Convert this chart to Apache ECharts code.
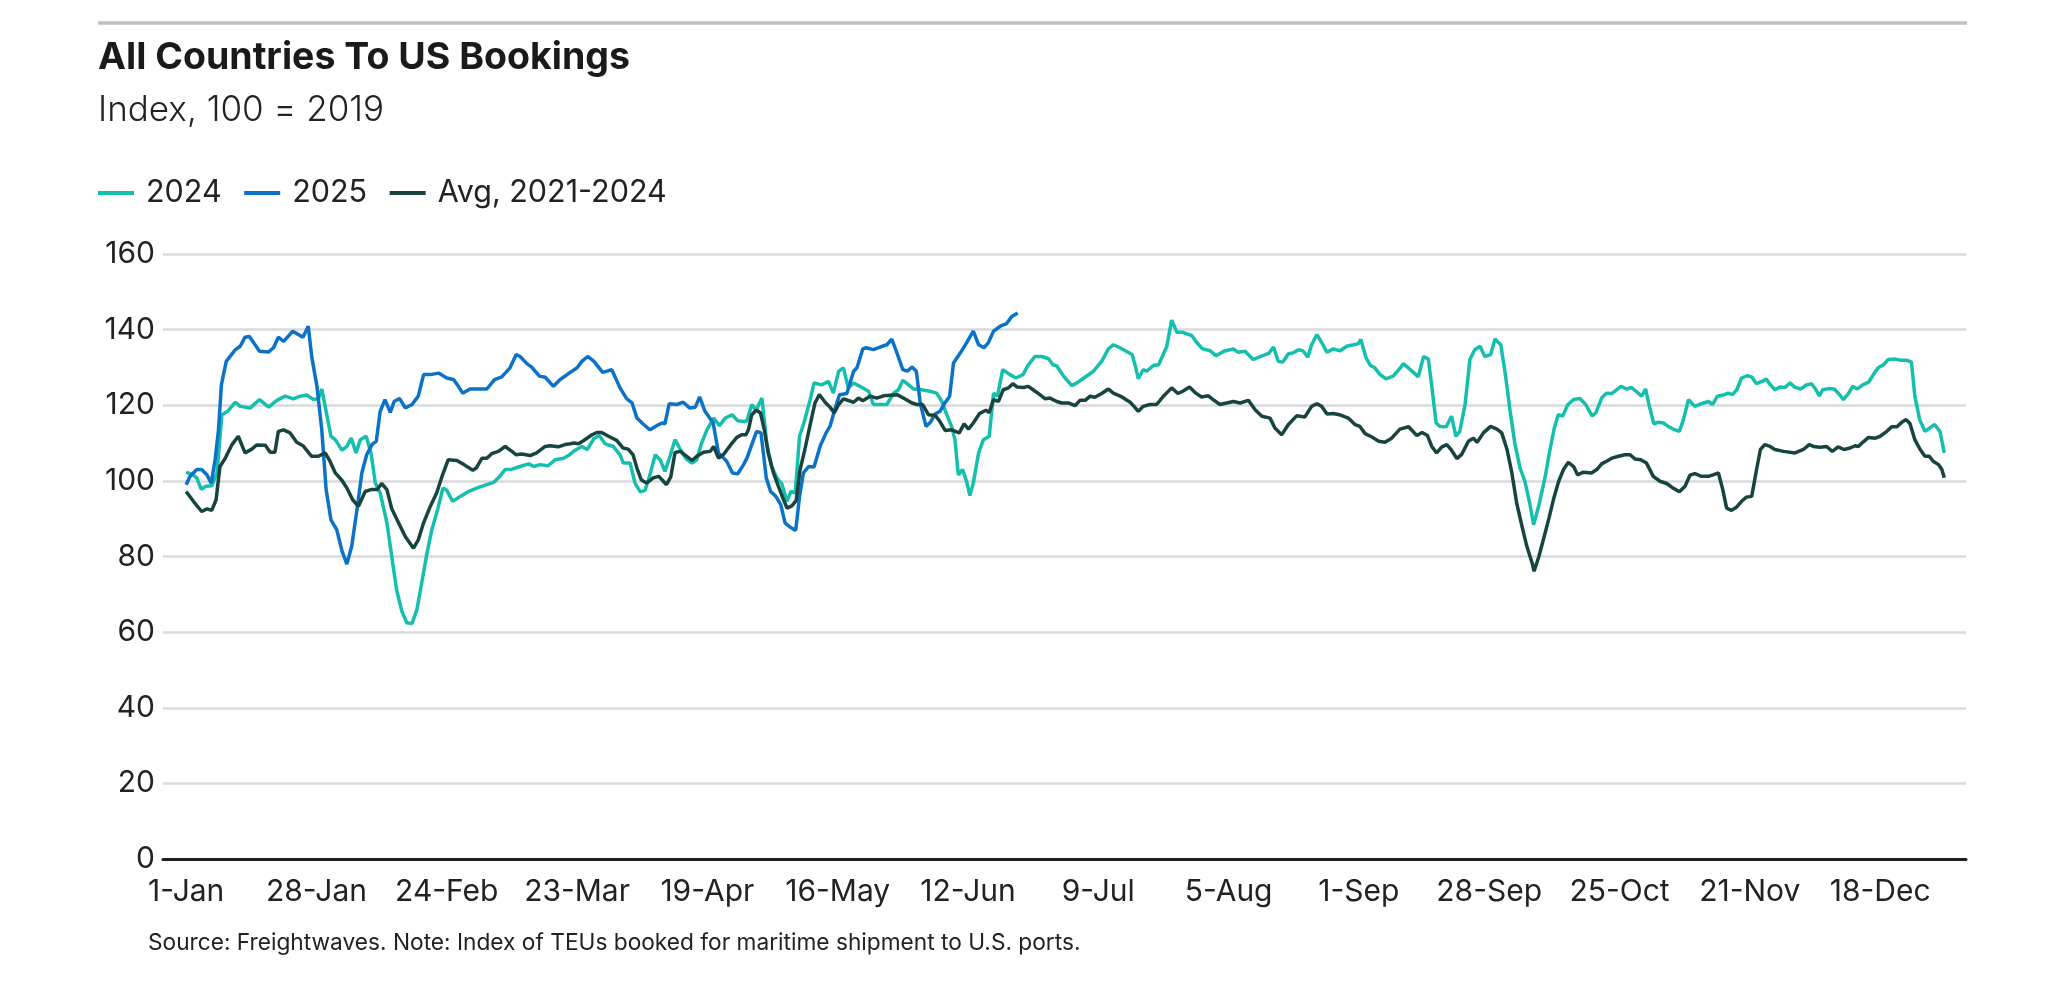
<!DOCTYPE html>
<html>
<head>
<meta charset="utf-8">
<title>All Countries To US Bookings</title>
<script src="https://cdn.jsdelivr.net/npm/echarts@6.0.0/dist/echarts.min.js"></script>
<style>
  html, body { margin: 0; padding: 0; background: #fff; }
  #chart { width: 2060px; height: 993px; }
</style>
</head>
<body>
<div id="chart"></div>
<script>
// day of year (0 = 1-Jan) and tick labels, one every 27 days
var tickDays = [0, 27, 54, 81, 108, 135, 162, 189, 216, 243, 270, 297, 324, 351];
var tickLabels = ['1-Jan', '28-Jan', '24-Feb', '23-Mar', '19-Apr', '16-May', '12-Jun',
  '9-Jul', '5-Aug', '1-Sep', '28-Sep', '25-Oct', '21-Nov', '18-Dec'];
var yTicks = [0, 20, 40, 60, 80, 100, 120, 140, 160];
var seriesNames = ['2024', '2025', 'Avg, 2021-2024'];

// [day, index] readings
var bookings2024 = [[0,102.3],[1.4,101.6],[2.2,100.8],[3.1,97.8],[4.1,98.6],[5.3,98.7],[6.4,102.1],[7.4,117.5],[8.6,118.4],[10.2,120.8],[11.2,119.7],[13.3,119.3],[15.2,121.5],[17.1,119.5],[18.8,121.3],[20.5,122.4],[22.2,121.7],[23.6,122.4],[25,122.7],[26.4,121.5],[27.4,121.7],[28.1,124.3],[28.8,119.7],[30,111.8],[30.9,110.9],[32.3,108.1],[33.3,109.1],[34.2,111.3],[35.2,107.4],[36.1,110.9],[37.3,111.8],[38.3,107.4],[39.2,99.4],[40.2,96.8],[41.6,88.9],[42.6,80],[43.6,71.2],[44.7,65.5],[45.7,62.5],[46.8,62.3],[47.8,65.9],[48.8,73],[49.9,80.9],[50.9,87.1],[52.1,92.4],[53.2,98.1],[54,97.5],[55.2,94.6],[56.8,95.9],[58.5,97.2],[60.9,98.4],[63.7,99.6],[64.7,100.8],[66.1,103],[67.5,103.1],[69.2,103.8],[71,104.5],[72,103.8],[73.3,104.3],[75,104],[76.5,105.6],[78.2,106],[79.2,106.7],[80.6,108.1],[82,109.1],[83.1,108.3],[84.5,111.2],[85.6,112],[86.8,109.8],[88.5,109.1],[89.9,106.9],[90.6,104.7],[92,104.7],[93,99.4],[94.1,97.1],[95.1,97.5],[96.1,101.6],[97.2,106.9],[98.2,105.6],[99.2,102.5],[100.3,106.7],[101.3,110.9],[102.4,108.3],[103.6,105.8],[104.8,104.7],[105.8,105.6],[106.8,110],[107.9,113.5],[109.3,116.6],[110.5,114.6],[111.7,116.6],[113.1,117.5],[114.3,115.9],[115.6,115.7],[116.2,115.9],[117.2,120.2],[118.1,118.7],[119.3,121.9],[120.3,110],[121.3,103.8],[122.4,100.8],[123.4,99.3],[124.5,94.6],[125.3,97.2],[126.2,96.8],[127.1,111.8],[128,115.3],[129.3,121.5],[130.1,125.9],[131.7,125.4],[133.1,126.3],[134.1,123.2],[135.2,129],[136.2,129.9],[137.2,124.6],[138.3,125.9],[139.6,125],[141.4,123.7],[142.4,120.2],[145.2,120.2],[146.6,123.2],[147.6,124.1],[148.5,126.6],[149.7,125.4],[150.7,124.3],[152.4,124.1],[154.1,123.7],[155.5,123.2],[156.6,121],[157.6,117.5],[158.6,114.4],[159.3,110.9],[160,101.6],[160.9,103],[161.8,99.4],[162.4,96.1],[163.1,99.4],[164.2,107.4],[165.2,110.9],[166.4,111.8],[167.3,123.2],[168.1,122.4],[169.2,129.4],[170.7,128.1],[171.9,127.2],[173.4,128.1],[174.5,130.7],[175.9,132.9],[177.3,132.9],[178.7,132.3],[179.6,130.7],[180.4,130.4],[181.8,127.7],[183.5,125.2],[184.6,125.9],[186,127.2],[188,129],[189.7,131.6],[191.1,134.9],[192.1,136],[193.5,135.2],[194.6,134.4],[196,133.4],[196.7,130.3],[197.3,127],[198.3,129.4],[199,129],[200.4,130.5],[201.5,130.7],[203.2,135.6],[204.2,142.5],[205.3,139.3],[206.5,139.3],[208.4,138.4],[209.4,136.6],[210.6,134.9],[212.2,134.4],[213.4,133.1],[215,134.3],[217,134.9],[218,134],[219.4,134.3],[221.1,132.1],[222.8,133],[224.3,133.7],[225.3,135.4],[226.3,131.6],[227.2,131.4],[228.4,133.6],[229.3,133.8],[230.5,134.7],[231.5,134.3],[232.4,132.7],[233.2,136],[234.3,138.7],[235.3,136.6],[236.4,134],[237.6,134.9],[239.1,134.4],[240.5,135.6],[241.9,136],[242.9,136.3],[243.4,137.4],[244.5,132.5],[245.4,130.5],[246.3,129.9],[247.4,128.1],[248.6,127],[250.1,127.7],[251.4,129.6],[252.2,131],[253.5,129.6],[254.3,128.7],[255.3,127.5],[256.4,132.9],[257.4,132.2],[258.1,125],[259,115.3],[259.8,114.4],[261.1,114.3],[262.2,117.1],[263.1,111.8],[263.9,113.1],[265,120.2],[266,132.1],[267,134.7],[268.1,135.6],[269.1,132.9],[270.3,133.4],[271.2,137.5],[272.4,136],[273.4,127.7],[274.3,118.8],[275.3,110],[276.4,103.4],[277.4,99.9],[278.4,94.1],[279.2,88.4],[280.4,94.1],[281.6,101.1],[282.6,108.3],[283.5,114],[284.3,117.5],[285.2,117.1],[286.3,120.2],[287.5,121.5],[288.8,121.8],[290,120.2],[291.3,117.2],[292.1,118],[293.3,121.9],[294.3,123.2],[295.4,123.1],[297.3,125],[298.5,124.3],[299.5,124.7],[301.6,122.4],[302.4,124.3],[303.2,119.7],[304.1,115.1],[305,115.5],[306.1,115.3],[307.1,114.4],[308.1,113.7],[309.4,113.1],[310.2,116],[311.3,121.5],[312.6,119.7],[314,120.4],[315.4,121],[316.3,120.2],[317.3,122.4],[318.5,122.7],[319.5,123.2],[320.4,122.8],[321.3,124.1],[322.3,127.2],[323.4,127.8],[324.4,127.5],[325.4,125.7],[326.5,126.3],[327.4,126.9],[328.3,125.4],[329.2,124.1],[330.2,124.8],[331.3,124.7],[332.3,125.9],[333.3,124.8],[334.5,124.3],[335.8,125.4],[336.8,125.7],[337.7,124.1],[338.4,122.5],[339.1,124.1],[340.3,124.4],[341.5,124.3],[342.6,122.8],[343.4,121.5],[344.5,123.2],[345.3,125],[346.3,124.3],[347.4,125.4],[348.6,126.1],[349.6,128.1],[350.6,129.9],[351.7,130.7],[352.7,132.1],[354.1,132.2],[355.3,131.9],[356.5,131.9],[357.5,131.4],[358.2,122.4],[359.2,116.2],[360.3,113.1],[361.3,114],[362.3,114.9],[363.4,113.1],[364.3,107.4]];

var bookings2025 = [[0,99],[0.8,101.2],[2.2,103],[3.2,103],[4.3,101.6],[5.2,99.4],[6,105.6],[6.7,113.5],[7.3,125.4],[8.3,131.6],[10.2,134.7],[11.2,135.6],[12.2,138],[13.1,138.2],[15.2,134.3],[17.1,134.1],[18.1,135.2],[19.1,138],[20.2,136.9],[22.1,139.6],[24.2,138],[25.3,140.9],[26,133],[27.1,125],[28.1,113.5],[29,97.7],[30,89.7],[31.2,87.1],[32.3,81.4],[33.3,78],[34.3,82.7],[35.4,92.4],[36.4,102.1],[37.4,106.9],[38.5,109.6],[39.4,110.5],[40.2,118.4],[41.2,121.5],[42.3,118.1],[43.1,121],[44.2,121.8],[45.4,119.3],[46.8,120.2],[48.1,122.4],[49.2,128.1],[50.6,128.1],[52.3,128.5],[54,127.2],[55.4,126.8],[56.4,125],[57.3,123.2],[58.8,124.3],[62.3,124.3],[63.9,126.8],[65.4,127.5],[67.1,129.9],[68.4,133.4],[69.2,132.9],[70.6,131],[71.6,130.1],[73.2,127.7],[74.4,127.4],[76.1,125],[77.5,126.8],[79.6,128.7],[81,129.9],[82,131.6],[83.2,132.9],[84.5,131.6],[86.3,128.7],[88.2,129.4],[89.9,124.6],[91.3,121.7],[92.4,120.6],[93.4,116.6],[94.8,114.9],[96.1,113.5],[97.5,114.6],[98.6,115.3],[99.2,115.1],[100.1,120.4],[101.7,120.2],[103,120.8],[104.3,119.3],[105.5,119.5],[106.4,122.2],[107.5,118.4],[109.2,115.3],[110.3,107.4],[112,105.2],[113.2,102.1],[114.3,101.9],[115.5,104.3],[116.2,106],[117.2,109.6],[118.2,113.1],[119.1,112.7],[119.6,107.4],[120.2,100.8],[121.1,97.2],[122.2,95.9],[123.2,93.7],[124.1,88.9],[125.1,87.8],[126.3,86.9],[127.1,95.9],[127.9,102.1],[129,103.8],[130.1,103.7],[131.4,109.3],[132.6,112.7],[133.4,114.4],[134.5,119.3],[135.4,122.8],[136.9,123.1],[138.3,129],[139,129.9],[140.2,134.9],[140.9,135.2],[142.4,134.7],[143.8,135.4],[145.2,136],[146.2,137.5],[147.3,133.8],[148.5,129.4],[149.4,129],[150.4,130.1],[151.3,129],[152.1,120.6],[153.3,114.4],[154.2,115.5],[155.2,117.7],[156.2,118.4],[157,120.2],[158.2,122.4],[159,131.2],[160.4,133.8],[161.7,136.5],[163.1,139.6],[164.2,136],[165.3,135.2],[166.2,136.5],[167.3,139.6],[168.7,140.9],[170,141.6],[171.1,143.5],[172.3,144.4]];

var avg2021to2024 = [[0,97.2],[1.5,94.6],[3.2,91.9],[4.3,92.6],[5.3,92.2],[6.2,95],[7,103.8],[8.1,106],[9.5,109.6],[10.8,111.8],[11.2,112],[12.2,107.4],[13.6,108.4],[14.6,109.5],[16.4,109.4],[17.4,107.6],[18.4,107.6],[19.1,113.1],[20.2,113.5],[21.5,112.7],[22.9,110.2],[24.2,109.3],[26,106.5],[27.4,106.5],[28.8,107.4],[29.8,105.2],[30.9,102.1],[32.3,100.1],[33.3,98.1],[34.5,95],[35.7,93.3],[37.1,97.2],[38.3,97.7],[39.6,97.7],[40.5,99.3],[41.6,97.7],[42.6,92.6],[44,88.9],[45.4,85.3],[47.1,82.2],[48.1,84.4],[49.2,88.9],[50.6,93.3],[51.9,96.8],[53,101.1],[54.3,105.6],[56.1,105.4],[57.8,104.1],[59.4,102.8],[60.1,103.4],[61.3,106],[62.3,106],[63.3,107.2],[64.7,107.8],[66.1,109.1],[67.5,107.8],[68.4,106.9],[69.5,107.1],[71.3,106.7],[72.6,107.4],[74.4,109.1],[75.4,109.3],[77.1,109],[78.5,109.6],[79.6,109.8],[80.3,110],[81.3,109.8],[82.3,110.6],[84.1,112.2],[85.1,112.8],[86.1,112.8],[87.5,111.8],[89.2,110.7],[90.5,108.7],[91.6,108.4],[92.6,106.9],[93.4,103.4],[94.3,100.3],[95.4,99.4],[96.8,100.8],[97.9,101.2],[98.6,100.3],[99.5,99],[100.4,101],[101.3,107.5],[102.4,107.8],[103.7,106.5],[104.8,105.4],[105.8,106.5],[107.2,107.6],[108.6,107.8],[109.3,109.1],[110.3,106],[111.3,106.9],[112.7,109.3],[114.1,111.5],[115.1,112.2],[116,112.2],[116.5,113.5],[117.2,117.5],[118.1,118.7],[119,118],[119.8,113.5],[120.6,107.4],[121.7,102.1],[122.7,98.6],[123.8,95],[124.5,92.8],[125.5,93.4],[126.4,94.8],[127.2,102.9],[128.2,108.3],[129.3,114.9],[130.3,120.6],[131.2,122.8],[132.4,120.8],[133.4,119.5],[134.3,118],[135.2,120.2],[136.2,121.7],[138.3,120.8],[139.3,121.9],[140.2,121.2],[141.7,122.4],[143.1,121.9],[144.5,122.5],[147.3,122.8],[148.6,121.9],[150.4,120.6],[151.4,120.2],[152.6,120.2],[153.8,117.5],[155.2,117.3],[156.2,115.7],[157.3,113.3],[158.6,113.5],[160.2,112.7],[161.2,115.1],[162.1,113.7],[163.1,115.3],[164.4,117.8],[165.7,118.7],[166.4,118.1],[167.3,121.5],[168.3,121],[169.3,124.1],[170.4,124.6],[171.3,125.7],[172.2,124.8],[173.5,124.7],[174.5,125],[175.5,124.1],[176.9,122.8],[178,121.7],[179,121.9],[180.4,121],[181.4,120.6],[182.8,120.6],[184.2,119.9],[185.2,121.3],[186.3,121.3],[187.3,122.4],[188.3,122.1],[189.7,123.1],[191.1,124.3],[192.1,123.2],[193.9,122.2],[195.6,120.8],[196.4,119.7],[197.3,118.4],[198.3,119.7],[199.7,120.2],[201.1,120.2],[202.5,122.4],[204.2,124.6],[205.5,123.1],[206.5,123.7],[207.9,124.8],[209.2,123.2],[210.4,122.2],[211.8,122.5],[212.8,121.5],[214.2,120.2],[215.6,120.6],[217,121],[218.4,120.6],[220.1,121.3],[221.5,118.8],[222.9,117.1],[224.6,116.6],[225.6,114],[227,112.2],[228.4,114.9],[230.1,117.2],[231.8,116.9],[233.2,119.7],[234.3,120.4],[235.3,119.7],[236.4,117.7],[237.7,117.8],[239.2,117.4],[240.8,116.6],[242.2,114.9],[243.2,114.4],[244.3,112.5],[245.7,111.6],[247.1,110.5],[248.4,110.2],[249.8,111.3],[251.5,113.7],[253.3,114.3],[255,112],[256.1,112.8],[257.2,112],[258.1,109.1],[259.1,107.4],[260.2,109],[261.2,109.6],[262.1,108.3],[263.3,105.9],[264.3,107],[265.7,110.5],[266.7,111.3],[267.5,110.2],[268.8,112.7],[270.3,114.4],[271.6,113.7],[272.6,112.7],[273.7,108.3],[274.7,102.1],[275.7,94.1],[276.8,88],[277.8,82.7],[278.9,78.3],[279.3,76.1],[280.3,80],[281.4,85.3],[282.4,90.2],[283.4,95.5],[284.4,99.9],[285.4,103],[286.4,104.9],[287.5,103.8],[288.3,101.6],[289.5,102.3],[291.2,102.1],[292.3,103],[293.3,104.5],[294.3,105.2],[295.4,106],[296.8,106.5],[298.1,106.9],[299.2,106.9],[300.2,105.8],[301.4,105.6],[302.6,104.7],[304,101.2],[305.4,99.9],[306.8,99.3],[308.1,98.1],[309.4,97.1],[310.6,98.6],[311.6,101.5],[312.6,101.9],[314,101.2],[315.4,101.2],[316.4,101.6],[317.5,102.1],[318.4,97.7],[319.2,92.8],[320.2,92.2],[321.3,93.1],[322.3,94.6],[323.3,95.7],[324.4,95.9],[325.4,103],[326.2,108.3],[327.1,109.6],[328.2,109.1],[329.2,108.3],[331,107.8],[333.4,107.4],[335.1,108.3],[336.3,109.6],[337.2,109.1],[338.5,108.9],[339.9,109.1],[341.1,107.8],[342.3,109],[343.5,108.3],[344.8,108.7],[345.8,109.3],[346.5,109.1],[347.4,110.2],[348.6,111.5],[350,111.3],[351,111.8],[352.4,113.1],[353.4,114.3],[354.5,114.3],[355.5,115.5],[356.4,116.2],[357.2,115.1],[358.2,110.9],[359.3,108.3],[360.3,106.5],[361.2,106.5],[362,105.2],[363.1,104.3],[363.8,103],[364.3,100.8]];

var chart = echarts.init(document.getElementById('chart'));

chart.setOption({
  animation: false,
  color: ['#14bfae', '#0b72c8', '#18443f'],
  textStyle: { fontFamily: 'Inter' },
  title: [
    {
      text: 'All Countries To US Bookings',
      left: 98,
      top: 37,
      padding: 0,
      textStyle: { fontSize: 37.5, fontWeight: 700, color: '#1a1a1a', lineHeight: 42 }
    },
    {
      text: 'Index, 100 = 2019',
      left: 98,
      top: 90,
      padding: 0,
      textStyle: { fontSize: 35, fontWeight: 300, color: '#222', lineHeight: 40 }
    },
    {
      text: 'Source: Freightwaves. Note: Index of TEUs booked for maritime shipment to U.S. ports.',
      left: 148,
      top: 930,
      padding: 0,
      textStyle: { fontSize: 22.7, fontWeight: 400, color: '#222', lineHeight: 26 }
    }
  ],
  graphic: [
    {
      type: 'line',
      shape: { x1: 98, y1: 23, x2: 1967, y2: 23 },
      style: { stroke: '#c0c0c0', lineWidth: 3.5 }
    }
  ],
  legend: {
    data: seriesNames,
    left: 98,
    top: 176,
    padding: 0,
    icon: 'rect',
    itemWidth: 36,
    itemHeight: 4,
    itemGap: 22.5,
    textStyle: { fontSize: 30.5, color: '#222', lineHeight: 34, padding: [0, 0, 0, 7] }
  },
  grid: {
    left: 163,
    right: 94,
    top: 254,
    bottom: 134,
    outerBoundsMode: 'none'
  },
  xAxis: {
    type: 'value',
    min: -4.8,
    max: 368.8,
    axisLine: { show: true, onZero: false, lineStyle: { color: '#1e1e1e', width: 3 } },
    axisTick: { show: false },
    splitLine: { show: false },
    axisLabel: {
      customValues: tickDays,
      formatter: function (v) {
        return tickLabels[tickDays.indexOf(v)];
      },
      fontSize: 30,
      color: '#222',
      margin: 18
    }
  },
  yAxis: {
    type: 'value',
    min: yTicks[0],
    max: yTicks[yTicks.length - 1],
    interval: 20,
    axisLine: { show: false },
    axisTick: { show: false },
    splitLine: { lineStyle: { color: '#d9dadd', width: 2.5 } },
    axisLabel: { fontSize: 30, color: '#222', margin: 8 }
  },
  series: [
    { name: seriesNames[0], type: 'line', data: bookings2024, showSymbol: false, lineStyle: { width: 3.5 } },
    { name: seriesNames[1], type: 'line', data: bookings2025, showSymbol: false, lineStyle: { width: 3.5 } },
    { name: seriesNames[2], type: 'line', data: avg2021to2024, showSymbol: false, lineStyle: { width: 3.5 } }
  ]
});
</script>
</body>
</html>
